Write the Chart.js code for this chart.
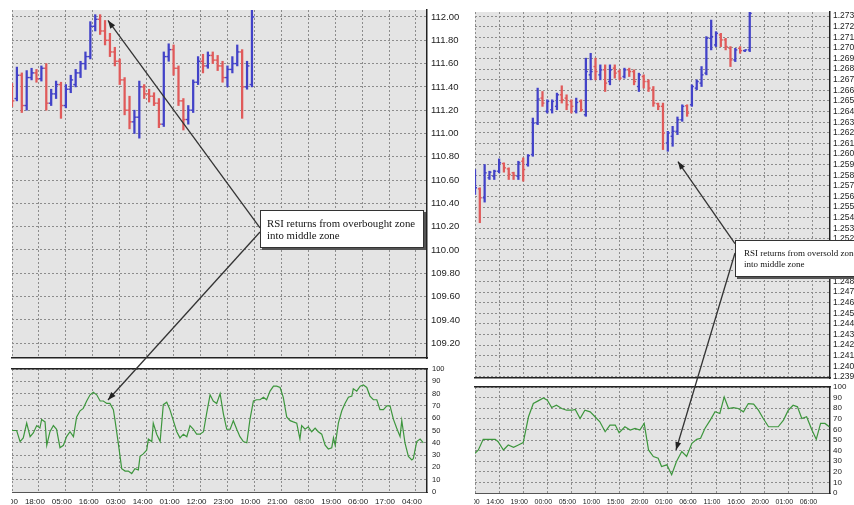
<!DOCTYPE html>
<html>
<head>
<meta charset="utf-8">
<script src="https://cdn.jsdelivr.net/npm/chart.js@4.4.1/dist/chart.umd.min.js"></script>
<style>
  body { margin: 0; width: 854px; height: 505px; overflow: hidden; background: #fff; position: relative; }
  canvas { position: absolute; }
  .note {
    position: absolute; background: #fff; border: 1px solid #333;
    box-shadow: 2px 2px 0 #555; font-family: "Liberation Serif", "Times New Roman", serif;
    color: #111; box-sizing: border-box; white-space: nowrap; overflow: hidden;
  }
</style>
</head>
<body>
<canvas id="priceLeft" width="449" height="362" style="left:11px;top:0px"></canvas>
<canvas id="rsiLeft" width="449" height="143" style="left:11px;top:362px"></canvas>
<canvas id="priceRight" width="380" height="382" style="left:474px;top:0px"></canvas>
<canvas id="rsiRight" width="380" height="123" style="left:474px;top:382px"></canvas>
<canvas id="overlay" width="854" height="505" style="left:0;top:0"></canvas>
<div class="note" id="noteLeft" style="left:260px;top:210px;width:164px;height:38px;font-size:10.8px;line-height:12px;padding:6px 0 0 6px">RSI returns from overbought zone<br>into middle zone</div>
<div class="note" id="noteRight" style="left:735px;top:240px;width:140px;height:37px;font-size:9px;line-height:11px;padding:7px 0 0 8px">RSI returns from oversold zone<br>into middle zone</div>
<script>
// ---- left panel (price 109.x - 112.x) ----
const leftHours = [0, 2, 4, 6, 8, 10, 12, 14, 16, 18, 20, 22, 24, 26, 28, 30, 32, 34, 36, 38, 40, 42, 44, 46, 48, 50, 52, 54, 56, 58, 60, 62, 64, 66, 68, 70, 72, 74, 76, 78, 80, 82, 84, 86, 88, 90, 92, 94, 96, 98];
const leftOpen = [111.41, 111.30, 111.50, 111.24, 111.48, 111.52, 111.47, 111.56, 111.26, 111.34, 111.42, 111.24, 111.38, 111.42, 111.52, 111.60, 111.66, 111.92, 111.98, 111.88, 111.80, 111.70, 111.62, 111.46, 111.20, 111.10, 111.14, 111.40, 111.34, 111.32, 111.26, 111.08, 111.66, 111.72, 111.56, 111.28, 111.12, 111.20, 111.44, 111.62, 111.58, 111.67, 111.63, 111.58, 111.48, 111.55, 111.60, 111.70, 111.40, 111.42];
const leftHigh = [111.43, 111.57, 111.52, 111.54, 111.56, 111.55, 111.58, 111.60, 111.38, 111.45, 111.44, 111.42, 111.50, 111.55, 111.62, 111.70, 111.96, 112.02, 112.02, 111.97, 111.86, 111.74, 111.64, 111.48, 111.32, 111.20, 111.45, 111.42, 111.38, 111.35, 111.30, 111.70, 111.77, 111.76, 111.58, 111.30, 111.24, 111.46, 111.66, 111.68, 111.70, 111.70, 111.67, 111.62, 111.58, 111.66, 111.76, 111.72, 111.62, 112.06];
const leftLow = [111.23, 111.28, 111.18, 111.20, 111.46, 111.44, 111.45, 111.20, 111.24, 111.30, 111.13, 111.22, 111.35, 111.40, 111.48, 111.55, 111.64, 111.88, 111.85, 111.76, 111.66, 111.58, 111.42, 111.16, 111.04, 111.00, 110.96, 111.30, 111.27, 111.24, 111.05, 111.06, 111.62, 111.50, 111.24, 111.03, 111.08, 111.18, 111.42, 111.52, 111.56, 111.60, 111.54, 111.44, 111.40, 111.52, 111.58, 111.13, 111.38, 111.40];
const leftClose = [111.28, 111.50, 111.24, 111.48, 111.52, 111.47, 111.56, 111.26, 111.34, 111.42, 111.24, 111.38, 111.46, 111.52, 111.60, 111.66, 111.92, 111.98, 111.88, 111.80, 111.70, 111.62, 111.46, 111.20, 111.10, 111.14, 111.40, 111.34, 111.32, 111.26, 111.08, 111.66, 111.72, 111.56, 111.28, 111.12, 111.20, 111.44, 111.62, 111.58, 111.67, 111.63, 111.58, 111.48, 111.55, 111.60, 111.70, 111.40, 111.58, 112.00];

const leftRsiHours = [0.0, 1.9, 3.3, 4.6, 6.0, 7.4, 8.7, 10.1, 11.4, 12.1, 13.5, 14.2, 15.5, 16.9, 18.2, 19.6, 21.0, 22.3, 23.7, 25.1, 26.4, 27.8, 29.1, 30.5, 31.9, 33.2, 34.6, 36.0, 37.3, 38.7, 40.0, 41.4, 42.1, 43.4, 44.8, 46.2, 47.5, 48.9, 50.2, 51.6, 52.3, 53.6, 55.0, 55.7, 57.1, 57.7, 59.1, 60.5, 61.8, 63.2, 64.5, 65.9, 67.3, 68.6, 70.0, 71.4, 72.7, 74.1, 75.4, 76.8, 78.2, 79.5, 80.9, 82.2, 83.6, 85.0, 86.3, 87.7, 89.1, 90.4, 91.8, 93.1, 94.5, 95.9, 97.2, 98.6, 99.9, 101.3, 102.7, 104.0, 105.4, 106.8, 108.1, 109.5, 110.8, 112.2, 113.6, 114.9, 116.3, 117.6, 118.3, 119.7, 121.0, 122.4, 123.8, 125.1, 126.5, 127.9, 129.2, 130.6, 131.3, 132.0, 133.3, 134.7, 136.0, 137.4, 138.8, 139.4, 140.8, 142.2, 143.5, 144.9, 146.2, 147.6, 149.0, 150.3, 151.7, 153.1, 154.4, 155.8, 157.1, 158.5, 159.2, 160.5, 161.9, 163.3, 163.9, 165.3, 166.7, 168.0];
const leftRsi = [50, 50, 41, 44, 56, 45, 48, 54, 52, 59, 57, 38, 49, 54, 51, 36, 38, 45, 49, 45, 61, 66, 68, 74, 79, 81, 79, 74, 74, 72, 72, 67, 58, 40, 19, 17, 17, 15, 19, 18, 29, 31, 34, 43, 41, 56, 47, 41, 71, 73, 67, 58, 49, 44, 47, 45, 54, 51, 47, 47, 49, 64, 79, 74, 72, 80, 64, 51, 51, 58, 51, 45, 41, 40, 59, 74, 75, 75, 77, 75, 82, 86, 86, 85, 77, 61, 58, 57, 56, 43, 54, 51, 53, 49, 52, 49, 47, 38, 35, 36, 44, 38, 56, 66, 72, 77, 78, 84, 82, 86, 87, 85, 78, 75, 75, 67, 67, 70, 70, 59, 52, 45, 58, 40, 29, 26, 27, 41, 43, 40];

const leftPriceTicks = [109.2, 109.4, 109.6, 109.8, 110.0, 110.2, 110.4, 110.6, 110.8, 111.0, 111.2, 111.4, 111.6, 111.8, 112.0];
const leftTimeTicks = [0, 11, 22, 33, 44, 55, 66, 77, 88, 99, 110, 121, 132, 143, 154, 165];
const leftTimeLabels = ["07:00", "18:00", "05:00", "16:00", "03:00", "14:00", "01:00", "12:00", "23:00", "10:00", "21:00", "08:00", "19:00", "06:00", "17:00", "04:00"];
const leftArrowPrice = { x: 39.2, y: 111.97 };
const leftArrowRsi = { x: 39.2, y: 74.8 };

// ---- right panel (price 1.239 - 1.273) ----
const rightHours = [0, 1, 2, 3, 4, 5, 6, 7, 8, 9, 10, 11, 12, 13, 14, 15, 16, 17, 18, 19, 20, 21, 22, 23, 24, 25, 26, 27, 28, 29, 30, 31, 32, 33, 34, 35, 36, 37, 38, 39, 40, 41, 42, 43, 44, 45, 46, 47, 48, 49, 50, 51, 52, 53, 54, 55, 56, 57];
const rightOpen = [1.25635, 1.25672, 1.25588, 1.25776, 1.25791, 1.25838, 1.25910, 1.25860, 1.25823, 1.25791, 1.25932, 1.25901, 1.25995, 1.26292, 1.26527, 1.26402, 1.26417, 1.26449, 1.26558, 1.26527, 1.26496, 1.26402, 1.26496, 1.26370, 1.26746, 1.26824, 1.26746, 1.26793, 1.26683, 1.26809, 1.26777, 1.26730, 1.26793, 1.26777, 1.26636, 1.26730, 1.26683, 1.26605, 1.26474, 1.26449, 1.26104, 1.26167, 1.26214, 1.26323, 1.26455, 1.26464, 1.26621, 1.26668, 1.26762, 1.27090, 1.27028, 1.27122, 1.27075, 1.26996, 1.26887, 1.26996, 1.26974, 1.26981];
const rightHigh = [1.25854, 1.25682, 1.25901, 1.25838, 1.25848, 1.25954, 1.25917, 1.25870, 1.25829, 1.25932, 1.25964, 1.25995, 1.26339, 1.26621, 1.26589, 1.26511, 1.26511, 1.26574, 1.26643, 1.26558, 1.26511, 1.26527, 1.26511, 1.26903, 1.26949, 1.26903, 1.26840, 1.26840, 1.26840, 1.26840, 1.26793, 1.26809, 1.26809, 1.26793, 1.26762, 1.26746, 1.26699, 1.26636, 1.26480, 1.26480, 1.26214, 1.26261, 1.26349, 1.26464, 1.26464, 1.26652, 1.26699, 1.26824, 1.27106, 1.27262, 1.27153, 1.27137, 1.27090, 1.27012, 1.26996, 1.27012, 1.26981, 1.27338];
const rightLow = [1.25619, 1.25353, 1.25547, 1.25760, 1.25760, 1.25823, 1.25829, 1.25760, 1.25760, 1.25760, 1.25744, 1.25885, 1.25979, 1.26277, 1.26449, 1.26386, 1.26386, 1.26417, 1.26480, 1.26417, 1.26386, 1.26386, 1.26402, 1.26355, 1.26699, 1.26699, 1.26699, 1.26589, 1.26652, 1.26715, 1.26699, 1.26715, 1.26730, 1.26652, 1.26589, 1.26621, 1.26589, 1.26449, 1.26417, 1.26042, 1.26026, 1.26073, 1.26183, 1.26308, 1.26355, 1.26449, 1.26605, 1.26636, 1.26746, 1.26981, 1.27012, 1.27012, 1.26981, 1.26824, 1.26871, 1.26949, 1.26965, 1.26965];
const rightClose = [1.25682, 1.25588, 1.25823, 1.25829, 1.25838, 1.25917, 1.25870, 1.25807, 1.25798, 1.25917, 1.25854, 1.25985, 1.26292, 1.26518, 1.26480, 1.26496, 1.26496, 1.26558, 1.26511, 1.26464, 1.26449, 1.26486, 1.26417, 1.26777, 1.26777, 1.26777, 1.26793, 1.26668, 1.26793, 1.26762, 1.26715, 1.26793, 1.26777, 1.26683, 1.26746, 1.26683, 1.26621, 1.26480, 1.26449, 1.26198, 1.26198, 1.26214, 1.26323, 1.26449, 1.26386, 1.26636, 1.26683, 1.26746, 1.27090, 1.27106, 1.27137, 1.27075, 1.27012, 1.26887, 1.26981, 1.26974, 1.26981, 1.27325];

const rightRsiHours = [0.0, 0.7, 1.7, 3.1, 4.2, 4.8, 5.9, 6.9, 8.0, 9.0, 10.0, 11.1, 12.1, 13.1, 14.2, 15.0, 15.9, 16.9, 18.0, 19.0, 20.1, 20.8, 21.8, 22.8, 23.9, 24.9, 25.9, 27.0, 28.0, 29.1, 29.9, 31.1, 32.2, 33.2, 34.2, 35.1, 36.0, 37.0, 38.0, 38.7, 39.8, 40.8, 41.8, 42.9, 43.9, 45.0, 46.0, 46.8, 47.7, 48.8, 49.8, 50.8, 51.7, 52.6, 53.6, 54.6, 55.7, 56.7, 57.8, 58.8, 59.8, 60.9, 61.9, 62.9, 64.0, 65.0, 66.0, 66.9, 67.8, 68.8, 69.9, 70.8, 71.7, 72.6, 73.5];
const rightRsi = [37.5, 40.6, 50.6, 50.6, 50.6, 48.4, 40.6, 45.3, 43.1, 45.3, 47.5, 71.9, 84.4, 86.9, 89.7, 87.5, 80.6, 82.8, 79.7, 78.1, 78.1, 78.8, 70.3, 78.1, 76.6, 71.9, 67.2, 57.8, 64.1, 64.1, 56.9, 62.5, 59.4, 60.9, 59.4, 65.6, 40.6, 34.4, 32.8, 25.0, 26.6, 17.2, 29.7, 39.1, 34.4, 46.9, 50.6, 51.6, 60.9, 68.8, 76.6, 75.0, 90.6, 79.7, 80.6, 79.7, 76.6, 84.4, 83.8, 78.1, 70.3, 62.5, 62.5, 62.5, 68.8, 78.1, 82.8, 81.3, 70.3, 71.9, 59.4, 50.6, 65.6, 65.6, 62.5];

const rightPriceTicks = [1.239, 1.240, 1.241, 1.242, 1.243, 1.244, 1.245, 1.246, 1.247, 1.248, 1.249, 1.250, 1.251, 1.252, 1.253, 1.254, 1.255, 1.256, 1.257, 1.258, 1.259, 1.260, 1.261, 1.262, 1.263, 1.264, 1.265, 1.266, 1.267, 1.268, 1.269, 1.270, 1.271, 1.272, 1.273];
const rightTimeTicks = [0, 5, 10, 15, 20, 25, 30, 35, 40, 45, 50, 55, 60, 65, 70];
const rightTimeLabels = ["09:00", "14:00", "19:00", "00:00", "05:00", "10:00", "15:00", "20:00", "01:00", "06:00", "11:00", "16:00", "20:00", "01:00", "06:00"];
const rightArrowPrice = { x: 42.1, y: 1.25929 };
const rightArrowRsi = { x: 41.7, y: 40.6 };

const rsiTicks = [0, 10, 20, 30, 40, 50, 60, 70, 80, 90, 100];

const UP = "#4242c8";
const DOWN = "#e05a5a";
const GRID = "#8c8c8c";
const AXIS = "#222";
const FONT = "'Liberation Sans', Arial, sans-serif";

const plotBg = {
  id: "plotBg",
  beforeDraw(chart) {
    const { ctx, chartArea: a } = chart;
    ctx.save();
    ctx.fillStyle = "#e4e4e4";
    ctx.fillRect(a.left, a.top, a.width, a.height);
    ctx.restore();
  },
};

function fixedTicks(values) {
  return (scale) => {
    scale.ticks = values.map((v) => ({ value: v }));
  };
}

function xScale(xMax, tickValues, opts) {
  return {
    type: "linear",
    min: 0,
    max: xMax,
    offset: false,
    afterBuildTicks: fixedTicks(tickValues),
    afterFit: (s) => {
      s.height = opts.height;
      s.paddingLeft = 0;
      s.paddingRight = 0;
    },
    ticks: opts.labels
      ? {
          autoSkip: false,
          maxRotation: 0,
          padding: opts.pad,
          labelOffset: -4,
          color: "#222",
          font: { family: FONT, size: opts.labelSize },
          callback: (v, i) => opts.labels[i],
        }
      : { display: false },
    grid: { color: GRID, drawTicks: false, offset: false },
    border: { display: true, color: opts.borderColor, width: opts.borderWidth, dash: [2, 2] },
  };
}

function yScale(min, max, tickValues, opts) {
  return {
    position: "right",
    min: min,
    max: max,
    afterBuildTicks: fixedTicks(tickValues),
    afterFit: (s) => {
      s.width = opts.width;
      s.paddingTop = 0;
      s.paddingBottom = 0;
    },
    ticks: {
      autoSkip: false,
      padding: opts.pad,
      color: "#222",
      font: { family: FONT, size: opts.size },
      callback: (v) => (opts.decimals === 0 ? String(v) : v.toFixed(opts.decimals)),
    },
    grid: { color: GRID, drawTicks: false },
    border: { display: true, color: AXIS, width: 1.5, dash: [2, 2] },
  };
}

function ohlcDatasets(hours, open, high, low, close, tick) {
  const colors = open.map((o, i) => (close[i] >= o ? UP : DOWN));
  const ticks = (values, rotation) => ({
    type: "line",
    showLine: false,
    data: hours.map((x, i) => ({ x: x, y: values[i] })),
    pointStyle: "dash",
    pointRotation: rotation,
    pointRadius: tick,
    pointBorderColor: colors,
    pointBorderWidth: 1.4,
  });
  return [
    {
      type: "bar",
      data: hours.map((x, i) => ({ x: x, y: [low[i], high[i]] })),
      backgroundColor: colors,
      barThickness: 1.6,
      grouped: false,
    },
    ticks(open, 180),
    ticks(close, 0),
  ];
}

function priceChart(id, data, xMax, timeTicks, yMin, yMax, priceTicks, opts) {
  return new Chart(document.getElementById(id), {
    type: "bar",
    data: { datasets: data },
    options: {
      responsive: false,
      animation: false,
      events: [],
      layout: { autoPadding: false, padding: { left: 1, top: opts.top, right: 0, bottom: 0 } },
      plugins: { legend: { display: false }, tooltip: { enabled: false } },
      scales: {
        x: xScale(xMax, timeTicks, { height: 4, borderColor: AXIS, borderWidth: 1.5 }),
        y: yScale(yMin, yMax, priceTicks, opts),
      },
    },
    plugins: [plotBg],
  });
}

function rsiChart(id, hours, values, xMax, timeTicks, timeLabels, opts) {
  return new Chart(document.getElementById(id), {
    type: "line",
    data: {
      datasets: [
        {
          data: hours.map((x, i) => ({ x: x, y: values[i] })),
          borderColor: "#3d963d",
          borderWidth: 1.2,
          pointRadius: 0,
          tension: 0,
        },
      ],
    },
    options: {
      responsive: false,
      animation: false,
      events: [],
      layout: { autoPadding: false, padding: { left: 1, top: opts.top, right: 0, bottom: 0 } },
      plugins: { legend: { display: false }, tooltip: { enabled: false } },
      scales: {
        x: xScale(xMax, timeTicks, {
          height: opts.axisHeight, labels: timeLabels, pad: opts.labelPad, labelSize: opts.labelSize,
          borderColor: "#555", borderWidth: 1,
        }),
        xTop: {
          type: "linear",
          position: "top",
          min: 0,
          max: xMax,
          ticks: { display: false },
          grid: { display: false },
          border: { display: true, color: AXIS, width: 1.5 },
          afterFit: (s) => {
            s.height = 0;
          },
        },
        y: yScale(0, 100, rsiTicks, opts),
      },
    },
    plugins: [plotBg],
  });
}

const chartPriceLeft = priceChart(
  "priceLeft",
  ohlcDatasets(leftHours, leftOpen, leftHigh, leftLow, leftClose, 2.4),
  169.5, leftTimeTicks, 109.073, 112.06, leftPriceTicks,
  { top: 10, width: 33, pad: 4, size: 9.5, decimals: 2 }
);
const chartRsiLeft = rsiChart("rsiLeft", leftRsiHours, leftRsi, 169.5, leftTimeTicks, leftTimeLabels,
  { top: 7, axisHeight: 13, labelPad: 5, labelSize: 8, width: 33, pad: 5, size: 7.5, decimals: 0 });

const chartPriceRight = priceChart(
  "priceRight",
  ohlcDatasets(rightHours, rightOpen, rightHigh, rightLow, rightClose, 2),
  73.65, rightTimeTicks, 1.2389, 1.27338, rightPriceTicks,
  { top: 12, width: 24, pad: 3, size: 8.5, decimals: 4 }
);
const chartRsiRight = rsiChart("rsiRight", rightRsiHours, rightRsi, 73.65, rightTimeTicks, rightTimeLabels,
  { top: 5, axisHeight: 12, labelPad: 5, labelSize: 7, width: 24, pad: 3, size: 8, decimals: 0 });

// arrows from the note boxes to points found through the charts' scales
function pagePoint(chart, pt) {
  const r = chart.canvas.getBoundingClientRect();
  return [r.left + chart.scales.x.getPixelForValue(pt.x), r.top + chart.scales.y.getPixelForValue(pt.y)];
}

function boxEdge(id, frac) {
  const r = document.getElementById(id).getBoundingClientRect();
  return [r.left, r.top + r.height * frac];
}

function arrow(ctx, from, to) {
  ctx.beginPath();
  ctx.moveTo(from[0], from[1]);
  ctx.lineTo(to[0], to[1]);
  ctx.stroke();
  const a = Math.atan2(to[1] - from[1], to[0] - from[0]);
  const len = 8, half = 3;
  ctx.beginPath();
  ctx.moveTo(to[0], to[1]);
  ctx.lineTo(to[0] - len * Math.cos(a) + half * Math.sin(a), to[1] - len * Math.sin(a) - half * Math.cos(a));
  ctx.lineTo(to[0] - len * Math.cos(a) - half * Math.sin(a), to[1] - len * Math.sin(a) + half * Math.cos(a));
  ctx.closePath();
  ctx.fill();
}

const octx = document.getElementById("overlay").getContext("2d");
octx.strokeStyle = "#333";
octx.fillStyle = "#222";
octx.lineWidth = 1.3;
arrow(octx, boxEdge("noteLeft", 0.47), pagePoint(chartPriceLeft, leftArrowPrice));
arrow(octx, boxEdge("noteLeft", 0.58), pagePoint(chartRsiLeft, leftArrowRsi));
arrow(octx, boxEdge("noteRight", 0.1), pagePoint(chartPriceRight, rightArrowPrice));
arrow(octx, boxEdge("noteRight", 0.35), pagePoint(chartRsiRight, rightArrowRsi));
</script>
</body>
</html>
